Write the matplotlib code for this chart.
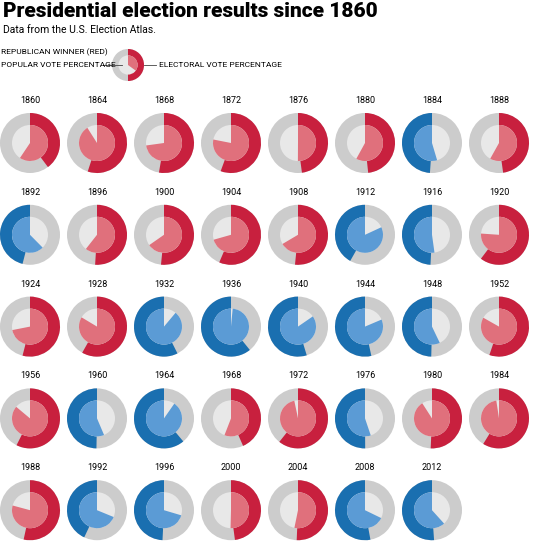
import matplotlib
matplotlib.use("Agg")
import matplotlib.pyplot as plt
from matplotlib.patches import Wedge, Circle

years = [1860,1864,1868,1872,1876,1880,1884,1888,1892,1896,1900,1904,1908,1912,1916,1920,
         1924,1928,1932,1936,1940,1944,1948,1952,1956,1960,1964,1968,1972,1976,1980,1984,
         1988,1992,1996,2000,2004,2008,2012]
party = list("RRRRRRDRDRRRRDDRRRDDDDDRRDDRRDRRRDDRRDD")
electoral = [59.4,91.0,72.8,78.1,50.1,58.0,54.6,58.1,62.4,60.6,65.3,70.6,66.5,81.9,52.2,76.1,
             71.9,83.6,88.9,98.5,84.6,81.4,57.1,83.2,86.1,56.4,90.3,55.9,96.7,55.2,90.9,97.6,
             79.2,68.8,70.4,50.4,53.2,67.8,61.7]
popular = [39.8,55.0,52.7,55.6,47.9,48.3,48.9,47.8,46.0,51.0,51.6,56.4,51.6,41.8,49.2,60.3,
           54.0,58.2,57.4,60.8,54.7,53.4,49.6,55.2,57.4,49.7,61.1,43.4,60.7,50.1,50.7,58.8,
           53.4,43.0,49.2,47.9,50.7,52.9,51.1]

DARK = {"R": "#c8203e", "D": "#1a6fb0"}
PALE = {"R": "#e0707c", "D": "#5b9bd5"}
GREY, LIGHT = "#cccccc", "#e8e8e8"

fig = plt.figure(figsize=(5.4, 5.42), dpi=100)
ax = fig.add_axes([0, 0, 1, 1])
ax.set_xlim(0, 540); ax.set_ylim(542, 0); ax.axis("off"); ax.set_aspect("equal")

def wedge(cx, cy, r, p, pct, color):
    if p == "R":
        ax.add_patch(Wedge((cx, cy), r, 270, 270 + pct * 3.6, color=color, lw=0))
    else:
        ax.add_patch(Wedge((cx, cy), r, 270 - pct * 3.6, 270, color=color, lw=0))

def glyph(cx, cy, r, p, outer, inner):
    ax.add_patch(Circle((cx, cy), r, color=GREY, lw=0))
    wedge(cx, cy, r, p, outer, DARK[p])
    ri = r * 0.6
    ax.add_patch(Circle((cx, cy), ri, color=LIGHT, lw=0))
    wedge(cx, cy, ri, p, inner, PALE[p])

for i, (y, p, ev, pv) in enumerate(zip(years, party, electoral, popular)):
    col, row = i % 8, i // 8
    cx = 30 + col * 67
    cy = 143 + row * 91.8
    glyph(cx, cy, 30, p, pv, ev)
    ax.text(cx, cy - 38, str(y), ha="center", va="bottom", fontsize=6.5, family="Roboto")

fig.text(0.005, 0.997, "Presidential election results since 1860", ha="left", va="top",
         fontsize=15, fontweight="black", family="Roboto")
ax.text(3, 30, "Data from the U.S. Election Atlas.", ha="left", va="center", fontsize=7.5, family="Roboto")
ax.text(1, 52, "REPUBLICAN WINNER (RED)", ha="left", va="center", fontsize=6, family="Roboto")
ax.text(1, 65, "POPULAR VOTE PERCENTAGE", ha="left", va="center", fontsize=6, family="Roboto")
ax.text(159, 65, "ELECTORAL VOTE PERCENTAGE", ha="left", va="center", fontsize=6, family="Roboto")
glyph(128, 65, 16, "R", 50, 35)
ax.plot([103, 122], [65, 65], color="#444444", lw=0.6)
ax.plot([144, 156], [65, 65], color="#444444", lw=0.6)

fig.savefig("out.png", dpi=100, facecolor="white")
